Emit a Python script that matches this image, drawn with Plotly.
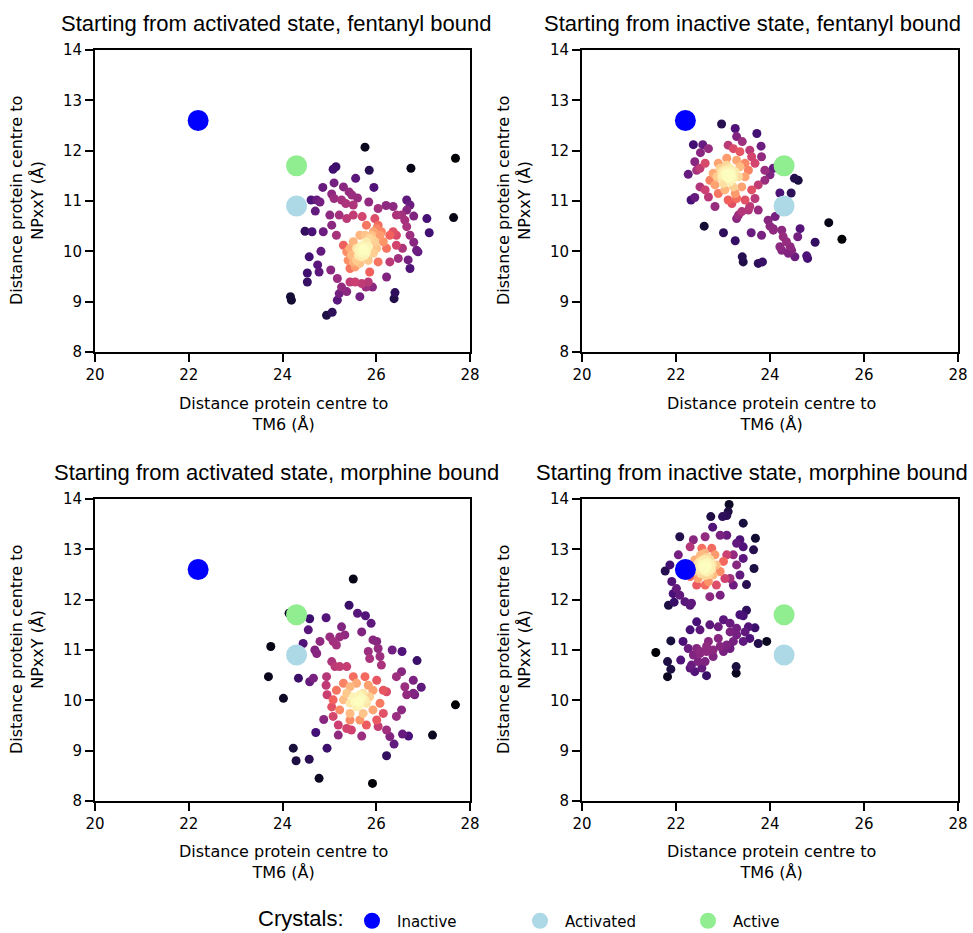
import numpy as np
import plotly.graph_objects as go

# ---------------- data ----------------
crystal_names = ["Inactive", "Activated", "Active"]
crystal_x = [22.2, 24.3, 24.3]
crystal_y = [12.6, 10.9, 11.7]
crystal_colors = ["#0000ff", "#add8e6", "#90ee90"]

panel_titles = [
    "Starting from activated state, fentanyl bound",
    "Starting from inactive state, fentanyl bound",
    "Starting from activated state, morphine bound",
    "Starting from inactive state, morphine bound",
]
legend_label = "Crystals:"
x_ticks = [20, 22, 24, 26, 28]
y_ticks = [8, 9, 10, 11, 12, 13, 14]

# Panel 1: activated start, fentanyl
fa_out_x = [25.76, 27.69, 26.74, 25.85, 25.14, 25.08, 25.56, 25.95, 27.65, 27.08, 27.13, 24.48, 24.63,
            24.57, 24.53, 24.53, 24.17, 24.19, 24.94, 25.06, 26.40, 26.38, 26.72, 26.22, 26.89, 26.68]
fa_out_y = [12.07, 11.85, 11.65, 11.61, 11.68, 11.63, 11.45, 11.27, 10.67, 10.65, 10.37, 10.40, 10.39,
            9.89, 9.57, 9.39, 9.10, 9.03, 8.73, 8.79, 9.18, 9.06, 9.66, 9.49, 9.99, 9.83]
fa_mid_x = [24.86, 25.10, 25.30, 25.42, 25.48, 25.60, 25.05, 25.10, 25.26, 25.35,
            25.51, 24.61, 24.73, 24.80, 24.70, 25.01, 25.21, 25.37, 24.87, 25.05,
            25.15, 25.51, 25.70, 25.84, 26.04, 26.21, 26.36, 26.65, 26.72, 26.80,
            26.61, 26.54, 26.43, 26.72, 26.80, 26.86, 26.56, 26.43, 26.65, 24.82,
            24.75, 24.78, 25.03, 25.17, 25.26, 25.21, 25.17, 25.37, 25.44, 25.55,
            25.69, 25.83, 25.65, 25.78, 25.92, 25.86, 26.04, 26.29, 26.47, 25.97,
            25.79, 25.65, 26.65]
fa_mid_y = [11.27, 11.36, 11.28, 11.18, 11.12, 11.06, 11.14, 11.05, 11.02, 10.95,
            10.92, 11.02, 11.02, 10.98, 10.80, 10.72, 10.72, 10.65, 10.39, 10.52,
            10.32, 10.72, 10.69, 10.98, 10.85, 10.91, 10.89, 11.02, 10.92, 10.70,
            10.62, 10.72, 10.72, 10.32, 10.18, 10.02, 10.06, 10.12, 10.49, 10.00,
            9.73, 9.59, 9.63, 9.46, 9.29, 9.16, 9.03, 9.20, 9.39, 9.39,
            9.36, 9.39, 9.10, 9.29, 9.29, 9.59, 9.79, 9.79, 9.86, 10.65,
            10.52, 10.32, 10.82]
fa_core_x = [25.30, 25.37, 25.40, 25.47, 25.51, 25.58, 25.62, 25.65, 25.69, 25.72,
             25.76, 25.79, 25.83, 25.86, 25.90, 25.94, 25.97, 26.01, 26.04, 26.08,
             26.11, 26.15, 26.22, 26.29, 26.36, 26.43, 25.44, 25.55, 25.65, 25.83,
             25.94, 26.01, 25.51, 25.76, 25.44, 25.58, 25.69, 25.72, 25.79, 25.62,
             25.69, 25.76, 25.65, 25.72]
fa_core_y = [10.12, 9.99, 9.82, 9.92, 9.79, 10.06, 9.92, 9.99, 10.12, 10.02,
             9.92, 10.19, 10.09, 10.26, 10.32, 10.39, 10.19, 10.45, 10.52, 10.32,
             10.39, 10.19, 10.06, 10.32, 10.39, 10.32, 9.66, 9.69, 9.76, 9.82,
             9.96, 10.06, 10.19, 10.32, 10.06, 9.82, 9.89, 10.06, 9.99, 10.02,
             9.96, 10.02, 10.06, 9.96]

# Panel 2: inactive start, fentanyl
fi_out_x = [22.97, 23.72, 22.37, 22.57, 23.81, 22.26, 22.32, 22.40, 22.60, 23.01,
            23.26, 23.60, 23.82, 23.41, 23.43, 23.75, 23.84, 24.21, 24.45, 24.52,
            24.60, 24.64, 24.59, 24.96, 25.25, 24.78, 24.80, 24.11, 24.00, 25.53]
fi_out_y = [12.53, 12.34, 12.12, 12.12, 12.09, 11.53, 11.02, 11.07, 10.50, 10.37,
            10.21, 10.37, 10.32, 9.89, 9.79, 9.76, 9.79, 11.16, 11.16, 11.45,
            11.41, 10.45, 10.29, 10.18, 10.57, 9.91, 9.86, 10.69, 10.50, 10.24]
fi_mid_x = [23.26, 23.29, 23.41, 23.11, 23.22, 22.52, 22.69, 23.36, 23.57, 23.61,
            23.82, 23.68, 23.89, 24.00, 24.07, 23.89, 23.75, 23.61, 23.68, 23.47,
            23.29, 23.11, 23.19, 22.83, 22.69, 22.62, 22.51, 22.44, 22.51, 22.62,
            22.40, 23.54, 23.40, 23.33, 23.29, 23.75, 23.57, 23.96, 24.07, 24.25,
            24.28, 24.35, 24.43, 24.25, 24.39, 24.46, 24.53, 24.07, 24.21]
fi_mid_y = [12.44, 12.28, 12.18, 12.11, 12.04, 11.96, 12.04, 11.98, 12.01, 11.88,
            11.88, 11.75, 11.61, 11.52, 11.65, 11.41, 11.32, 11.22, 11.05, 11.02,
            11.05, 11.02, 10.95, 10.89, 11.08, 11.22, 11.28, 11.61, 11.65, 11.75,
            11.78, 10.82, 10.79, 10.72, 10.65, 10.82, 10.89, 10.62, 10.45, 10.42,
            10.29, 10.19, 10.09, 10.02, 9.96, 10.02, 9.89, 10.42, 10.09]
fi_core_x = [23.11, 23.04, 23.18, 22.97, 23.26, 23.08, 23.15, 22.94, 23.33, 23.01,
             22.87, 23.22, 23.36, 22.90, 22.79, 23.47, 23.40, 23.04, 22.83, 23.29,
             23.08, 23.54, 23.47, 22.90, 23.26, 22.72, 22.97, 23.15, 23.22, 23.08,
             23.01, 23.18, 23.11, 23.06, 23.17]
fi_core_y = [11.55, 11.61, 11.48, 11.48, 11.58, 11.71, 11.38, 11.65, 11.48, 11.35,
             11.48, 11.28, 11.68, 11.75, 11.55, 11.48, 11.28, 11.22, 11.32, 11.81,
             11.85, 11.61, 11.75, 11.15, 11.15, 11.41, 11.58, 11.65, 11.45, 11.48,
             11.52, 11.58, 11.45, 11.55, 11.53]

# Panel 3: activated start, morphine
ma_out_x = [25.51, 25.42, 25.60, 25.77, 25.89, 25.69, 24.93, 24.58, 24.14, 23.75,
            23.70, 24.02, 26.34, 26.55, 26.87, 26.96, 27.69, 27.20, 26.56, 26.69,
            26.38, 26.22, 24.71, 24.23, 24.29, 24.57, 24.95, 24.78, 25.92, 24.34]
ma_out_y = [12.41, 11.89, 11.73, 11.68, 11.53, 11.36, 11.64, 11.62, 11.73, 11.07,
            10.47, 10.04, 11.00, 10.97, 10.79, 10.26, 9.91, 9.31, 9.33, 9.29,
            9.13, 8.90, 9.36, 9.05, 8.80, 8.83, 9.05, 8.45, 8.35, 10.44]
ma_mid_x = [24.58, 24.66, 24.73, 24.80, 25.01, 25.08, 25.22, 25.33, 25.26, 24.55,
            24.44, 24.69, 25.15, 25.83, 25.86, 26.04, 25.93, 26.01, 26.08, 26.11,
            25.05, 25.12, 25.22, 25.37, 24.94, 24.93, 24.95, 25.05, 24.88, 25.08,
            25.19, 25.19, 25.37, 25.47, 25.69, 25.79, 26.01, 26.04, 26.22, 26.29,
            26.43, 26.54, 26.65, 26.79, 26.61, 26.43, 26.54, 26.79, 26.82, 26.22]
ma_mid_y = [10.37, 10.44, 10.93, 11.17, 11.26, 11.17, 11.26, 11.30, 11.46, 11.40,
            11.13, 11.00, 11.10, 10.97, 10.83, 11.03, 11.20, 11.17, 10.87, 10.70,
            10.77, 10.67, 10.67, 10.67, 10.47, 10.30, 10.11, 9.87, 9.62, 9.68,
            9.51, 9.31, 9.44, 9.41, 9.29, 9.51, 9.61, 9.48, 9.41, 9.28,
            9.68, 9.81, 10.11, 10.14, 10.27, 10.47, 10.57, 10.40, 10.11, 10.17]
ma_core_x = [25.65, 25.51, 25.79, 25.58, 25.72, 25.44, 25.86, 25.37, 25.93, 25.30,
             25.44, 25.83, 26.01, 25.58, 25.22, 25.44, 25.72, 25.93, 26.08, 26.15,
             25.15, 25.08, 25.76, 25.51, 25.30, 25.65, 25.44, 26.15, 25.62, 25.69,
             25.54, 25.76, 25.65, 25.65]
ma_core_y = [10.01, 10.07, 9.94, 9.87, 10.14, 9.94, 10.07, 10.14, 10.20, 10.01,
             10.27, 10.30, 10.40, 10.34, 9.81, 9.74, 9.74, 9.81, 9.94, 10.20,
             10.20, 10.01, 10.47, 10.47, 10.34, 9.61, 9.61, 9.74, 9.97, 10.04,
             9.97, 10.01, 10.11, 9.91]

# Panel 4: inactive start, morphine
mi_out_x = [23.13, 23.11, 22.99, 23.08, 22.74, 23.43, 22.08, 23.69, 23.65, 23.43,
            23.66, 23.50, 21.77, 21.84, 21.96, 23.50, 23.43, 23.68, 23.93, 23.75,
            21.89, 21.57, 21.82, 21.89, 21.82, 22.10, 23.28, 23.28, 22.65]
mi_out_y = [13.89, 13.75, 13.65, 13.67, 13.65, 13.52, 13.25, 13.22, 12.99, 13.05,
            12.62, 12.30, 12.57, 11.89, 11.95, 11.79, 11.68, 11.44, 11.17, 11.13,
            11.18, 10.95, 10.77, 10.62, 10.47, 10.80, 10.67, 10.54, 10.49]
mi_mid_x = [22.78, 23.08, 23.29, 23.36, 23.22, 23.29, 23.15, 23.22, 22.94, 22.72,
            22.33, 22.19, 22.08, 22.01, 21.91, 21.87, 22.05, 22.30, 22.37, 22.62,
            22.94, 21.94, 23.36, 23.43, 22.30]
mi_mid_y = [13.44, 13.28, 13.12, 13.19, 12.89, 12.69, 12.42, 12.29, 12.09, 12.06,
            11.93, 11.96, 12.09, 12.22, 12.36, 12.69, 12.89, 13.05, 13.19, 13.25,
            13.28, 12.12, 12.49, 12.82, 11.89]
mi_core_x = [22.58, 22.51, 22.65, 22.44, 22.72, 22.55, 22.79, 22.40, 22.86, 22.47,
             22.33, 22.69, 22.83, 22.94, 23.01, 22.62, 22.44, 22.30, 22.76, 22.55,
             22.86, 23.04, 22.23, 23.08, 22.65, 22.51, 22.62, 22.72, 22.44,
             22.50, 22.56, 22.62, 22.68, 22.74, 22.53, 22.59, 22.65, 22.71, 22.47,
             22.57, 22.67, 22.77, 22.52, 22.62, 22.72, 22.58, 22.64, 22.70, 22.49,
             22.60, 22.66, 22.55, 22.75, 22.61]
mi_core_y = [12.66, 12.76, 12.56, 12.59, 12.72, 12.89, 12.49, 12.79, 12.69, 12.42,
             12.69, 12.36, 12.89, 12.56, 12.76, 12.29, 12.29, 12.46, 13.02, 13.02,
             12.29, 12.42, 12.56, 12.89, 12.79, 12.66, 12.59, 12.62, 12.69,
             12.60, 12.70, 12.62, 12.74, 12.66, 12.52, 12.80, 12.55, 12.58, 12.72,
             12.64, 12.84, 12.70, 12.88, 12.48, 12.80, 12.68, 12.72, 12.50, 12.62,
             12.58, 12.66, 12.76, 12.60, 12.92]
mi_low_x = [22.44, 22.51, 22.30, 22.72, 22.90, 23.01, 23.15, 23.36, 23.29, 23.47,
            23.57, 23.43, 23.22, 23.08, 22.94, 22.79, 22.65, 22.51, 22.37, 22.26,
            22.15, 22.33, 22.47, 22.62, 22.79, 23.01, 23.15, 23.29, 22.69, 22.90,
            22.55, 22.40, 22.30, 23.15, 23.54, 22.51, 22.65, 22.44]
mi_low_y = [11.56, 11.40, 11.40, 11.50, 11.46, 11.60, 11.53, 11.70, 11.43, 11.36,
            11.23, 11.17, 11.17, 11.10, 11.07, 11.00, 10.97, 10.93, 10.90, 11.03,
            11.17, 10.70, 10.77, 10.77, 10.87, 10.97, 11.03, 11.30, 11.17, 11.23,
            10.64, 10.57, 10.64, 11.36, 11.46, 10.97, 11.07, 11.03]

panels = [
    (fa_out_x + fa_mid_x + fa_core_x, fa_out_y + fa_mid_y + fa_core_y),
    (fi_out_x + fi_mid_x + fi_core_x, fi_out_y + fi_mid_y + fi_core_y),
    (ma_out_x + ma_mid_x + ma_core_x, ma_out_y + ma_mid_y + ma_core_y),
    (mi_out_x + mi_mid_x + mi_core_x + mi_low_x, mi_out_y + mi_mid_y + mi_core_y + mi_low_y),
]

# ---------------- layout geometry (pixels -> paper) ----------------
W, H = 973, 933
def px(v):
    return v / W
def py(v):
    return 1 - v / H

x_dom = [(95, 470), (582, 958), (95, 470), (582, 958)]
y_dom = [(50, 352), (50, 352), (499, 801), (499, 801)]
title_pos = [(276, 23), (752, 23), (276, 472), (752, 472)]
xt_pos = [(283, 414), (771, 414), (283, 862), (771, 862)]
yt_pos = [(27, 201), (514, 201), (27, 650), (514, 650)]

fig = go.Figure()


def kde(xs, ys, h=0.33):
    xs = np.asarray(xs)
    ys = np.asarray(ys)
    dx = xs[:, None] - xs[None, :]
    dy = ys[:, None] - ys[None, :]
    return np.exp(-(dx ** 2 + dy ** 2) / (2 * h * h)).sum(axis=1)


for i, (xs, ys) in enumerate(panels):
    n = i + 1
    xa = "x" if n == 1 else f"x{n}"
    ya = "y" if n == 1 else f"y{n}"
    d = kde(xs, ys)
    d = (d - d.min()) / (d.max() - d.min())
    d = d ** 0.8
    order = np.argsort(d)
    xs_s = np.asarray(xs)[order]
    ys_s = np.asarray(ys)[order]
    d_s = d[order]
    fig.add_trace(go.Scatter(
        x=xs_s, y=ys_s, mode="markers", xaxis=xa, yaxis=ya, showlegend=False,
        hoverinfo="skip",
        marker=dict(size=9, color=d_s, colorscale="Magma", cmin=0, cmax=1,
                    line=dict(width=0)),
    ))
    for k in range(3):
        fig.add_trace(go.Scatter(
            x=[crystal_x[k]], y=[crystal_y[k]], mode="markers", xaxis=xa, yaxis=ya,
            name=crystal_names[k], showlegend=(n == 1), legendgroup=crystal_names[k],
            marker=dict(size=21, color=crystal_colors[k], line=dict(width=0)),
        ))

    axis_common = dict(showgrid=False, zeroline=False, showline=True, mirror=True,
                       linecolor="black", linewidth=2, ticks="outside", ticklen=8,
                       tickwidth=2, tickcolor="black",
                       tickfont=dict(family="DejaVu Sans", size=15, color="black"))
    fig.update_layout(**{
        ("xaxis" if n == 1 else f"xaxis{n}"): dict(
            domain=[px(x_dom[i][0]), px(x_dom[i][1])], range=[20, 28], tickvals=x_ticks,
            anchor=ya, **axis_common),
        ("yaxis" if n == 1 else f"yaxis{n}"): dict(
            domain=[py(y_dom[i][1]), py(y_dom[i][0])], range=[8, 14], tickvals=y_ticks,
            anchor=xa, **axis_common),
    })

    fig.add_annotation(x=px(title_pos[i][0]), y=py(title_pos[i][1]), xref="paper", yref="paper",
                       text=panel_titles[i], showarrow=False, xanchor="center", yanchor="middle",
                       font=dict(family="Liberation Sans", size=22, color="black"))
    fig.add_annotation(x=px(xt_pos[i][0]), y=py(xt_pos[i][1]), xref="paper", yref="paper",
                       text="Distance protein centre to<br>TM6 (Å)", showarrow=False,
                       xanchor="center", yanchor="middle",
                       font=dict(family="DejaVu Sans", size=16, color="black"))
    fig.add_annotation(x=px(yt_pos[i][0]), y=py(yt_pos[i][1]), xref="paper", yref="paper",
                       text="Distance protein centre to<br>NPxxY (Å)", showarrow=False,
                       textangle=-90, xanchor="center", yanchor="middle",
                       font=dict(family="DejaVu Sans", size=16, color="black"))

# legend label drawn as text next to the legend
fig.add_annotation(x=px(346), y=py(918), xref="paper", yref="paper", text=legend_label,
                   showarrow=False, xanchor="right", yanchor="middle",
                   font=dict(family="Liberation Sans", size=22, color="black"))

fig.update_layout(
    width=W, height=H,
    margin=dict(l=0, r=0, t=0, b=0, autoexpand=False),
    paper_bgcolor="white", plot_bgcolor="white",
    legend=dict(
        orientation="h", x=px(347), xanchor="left", y=py(921), yanchor="middle",
        font=dict(family="DejaVu Sans", size=15, color="black"),
        entrywidth=113, entrywidthmode="pixels", itemsizing="trace", itemwidth=40,
        bgcolor="rgba(0,0,0,0)",
    ),
)

fig.write_html(
    "out.html",
    config={"displayModeBar": False},
    post_script="document.body.style.margin='0px';document.body.style.overflow='hidden';",
)
